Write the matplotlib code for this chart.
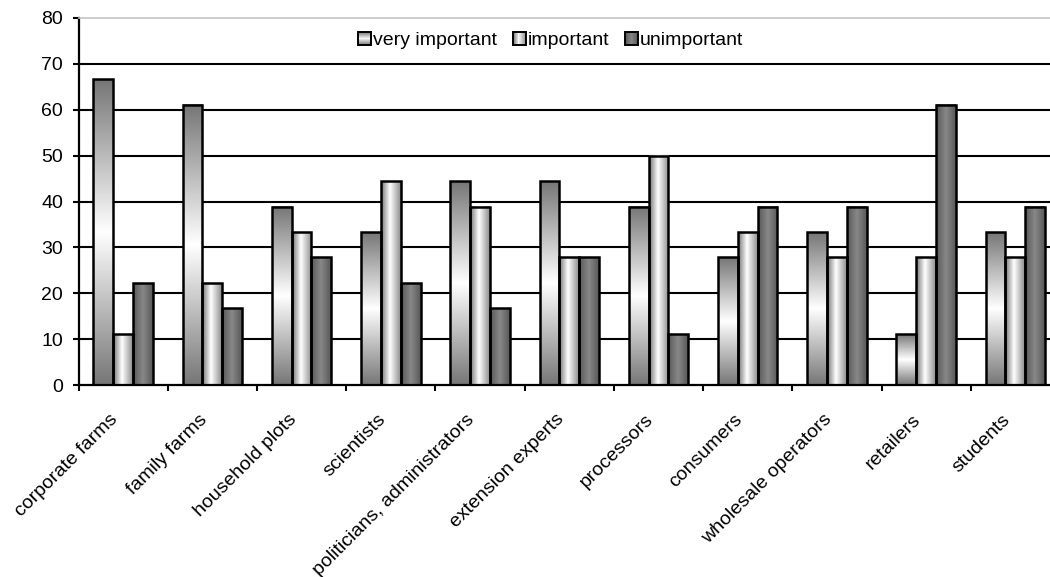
import numpy as np
import matplotlib
matplotlib.use("Agg")
import matplotlib.pyplot as plt
from matplotlib.colors import LinearSegmentedColormap
from matplotlib.legend_handler import HandlerBase
from matplotlib.patches import Rectangle
from matplotlib.transforms import ScaledTranslation

categories = ["corporate farms", "family farms", "household plots", "scientists",
              "politicians, administrators", "extension experts", "processors",
              "consumers", "wholesale operators", "retailers", "students"]
series_names = ["very important", "important", "unimportant"]
very_important = [66.7, 61.1, 38.9, 33.3, 44.4, 44.4, 38.9, 27.8, 33.3, 11.1, 33.3]
important = [11.1, 22.2, 33.3, 44.4, 38.9, 27.8, 50.0, 33.3, 27.8, 27.8, 27.8]
unimportant = [22.2, 16.7, 27.8, 22.2, 16.7, 27.8, 11.1, 38.9, 38.9, 61.1, 38.9]
y_ticks = [0, 10, 20, 30, 40, 50, 60, 70, 80]

plt.rcParams['font.family'] = ['Liberation Sans', 'DejaVu Sans']
plt.rcParams['font.size'] = 14

# fill ramps: first series shaded top-to-bottom, the others side-to-side
cmaps = [
    LinearSegmentedColormap.from_list("vi", [(0, "#767676"), (0.5, "#ffffff"), (1, "#767676")]),
    LinearSegmentedColormap.from_list("im", [(0, "#727272"), (0.45, "#ffffff"), (1, "#8c8c8c")]),
    LinearSegmentedColormap.from_list("un", [(0, "#585858"), (0.5, "#888888"), (1, "#585858")]),
]
vertical = [True, False, False]

fig = plt.figure(figsize=(10.5, 5.77), dpi=100)
ax = fig.add_axes([78.5 / 1050, 192 / 577, 981.5 / 1050, 367 / 577])

x = np.arange(len(categories))
w = 1 / 4.5
ramp = np.linspace(0, 1, 256)

for k, (vals, cmap, vert) in enumerate(zip([very_important, important, unimportant], cmaps, vertical)):
    bars = ax.bar(x + (k - 1) * w, vals, width=w, facecolor="none",
                  edgecolor="black", linewidth=1.8, zorder=3)
    grad = ramp[:, None] if vert else ramp[None, :]
    for r in bars:
        x0, h, bw = r.get_x(), r.get_height(), r.get_width()
        ax.imshow(grad, extent=[x0, x0 + bw, 0, h], cmap=cmap, vmin=0, vmax=1,
                  aspect="auto", origin="lower", interpolation="bilinear", zorder=2)

for v in y_ticks[1:-1]:
    ax.axhline(v, color="black", lw=1.5, zorder=1)

ax.set_xlim(-0.5, len(categories) - 0.5)
ax.set_ylim(0, 80)
ax.set_yticks(y_ticks)
ax.tick_params(axis="y", direction="out", length=4.5, width=1.5, pad=6.5)

ax.set_xticks(x)
ax.set_xticklabels(categories, rotation=45, ha="right", va="center", rotation_mode="anchor")
ax.tick_params(axis="x", which="major", length=0, pad=23)
shift = ScaledTranslation(-8 / 100, 0, fig.dpi_scale_trans)
for lab in ax.get_xticklabels():
    lab.set_transform(lab.get_transform() + shift)
ax.set_xticks(np.arange(-0.5, len(categories), 1), minor=True)
ax.tick_params(axis="x", which="minor", direction="out", length=4.5, width=1.5)

for s in ["left", "bottom"]:
    ax.spines[s].set_linewidth(1.6)
    ax.spines[s].set_color("black")
ax.spines["top"].set_color("#c4c4c4")
ax.spines["top"].set_linewidth(1.2)
ax.spines["right"].set_visible(False)


class GradientSwatch(HandlerBase):
    def __init__(self, cmap, vert, n=14):
        super().__init__()
        self.cmap, self.vert, self.n = cmap, vert, n

    def create_artists(self, legend, orig_handle, xdescent, ydescent, width, height, fontsize, trans):
        s = height
        x0, y0 = -xdescent, -ydescent
        arts = []
        for i in range(self.n):
            c = self.cmap((i + 0.5) / self.n)
            if self.vert:
                r = Rectangle((x0, y0 + s * i / self.n), s, s / self.n + 0.05, facecolor=c,
                              edgecolor="none", transform=trans)
            else:
                r = Rectangle((x0 + s * i / self.n, y0), s / self.n + 0.05, s, facecolor=c,
                              edgecolor="none", transform=trans)
            arts.append(r)
        arts.append(Rectangle((x0, y0), s, s, facecolor="none", edgecolor="black",
                              linewidth=1.4, transform=trans))
        return arts


proxies = [Rectangle((0, 0), 1, 1) for _ in series_names]
ax.legend(proxies, series_names, loc="center", bbox_to_anchor=(0.4814, 0.938),
          ncol=3, frameon=False, handlelength=0.62, handleheight=0.62,
          handletextpad=0.15, columnspacing=0.8,
          handler_map={p: GradientSwatch(c, v) for p, c, v in zip(proxies, cmaps, vertical)})

fig.savefig("out.png", dpi=100)
